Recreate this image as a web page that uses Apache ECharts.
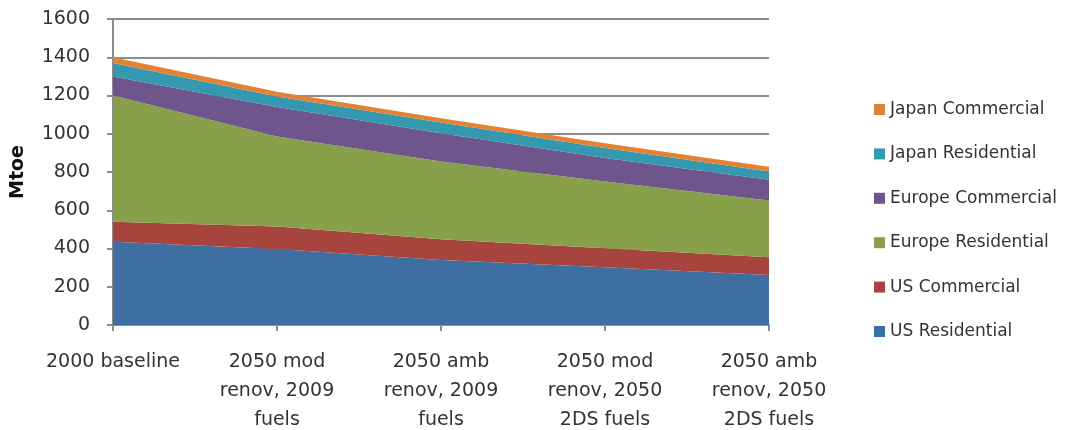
<!DOCTYPE html>
<html>
<head>
<meta charset="utf-8">
<script src="https://cdn.jsdelivr.net/npm/echarts@6/dist/echarts.min.js"></script>
<style>
  html, body { margin: 0; padding: 0; background: #fff; }
  #chart { width: 1092px; height: 430px; }
</style>
</head>
<body>
<div id="chart"></div>
<script>
// Scenario categories along the x axis
const categories = [
  '2000 baseline',
  '2050 mod\nrenov, 2009\nfuels',
  '2050 amb\nrenov, 2009\nfuels',
  '2050 mod\nrenov, 2050\n2DS fuels',
  '2050 amb\nrenov, 2050\n2DS fuels'
];

// Final energy demand by region and sector (Mtoe)
const usResidential     = [435, 398, 340, 302, 262];
const usCommercial      = [105, 117, 109,  99,  92];
const europeResidential = [660, 470, 406, 349, 297];
const europeCommercial  = [100, 155, 148, 123, 108];
const japanResidential  = [ 70,  55,  56,  52,  44];
const japanCommercial   = [ 30,  25,  22,  25,  25];

const yTicks = { min: 0, max: 1600, interval: 200 };

const seriesDefs = [
  { name: 'US Residential',     data: usResidential,     color: '#3E6EA2' },
  { name: 'US Commercial',      data: usCommercial,      color: '#A8443E' },
  { name: 'Europe Residential', data: europeResidential, color: '#88A04A' },
  { name: 'Europe Commercial',  data: europeCommercial,  color: '#6E568C' },
  { name: 'Japan Residential',  data: japanResidential,  color: '#3498B0' },
  { name: 'Japan Commercial',   data: japanCommercial,   color: '#E28232' }
];

const font = '"DejaVu Sans", "Open Sans", sans-serif';
const chart = echarts.init(document.getElementById('chart'), null, { renderer: 'canvas' });

chart.setOption({
  animation: false,
  textStyle: { fontFamily: font },
  grid: {
    left: 113, right: 323, top: 19, bottom: 105,
    containLabel: false,
    outerBoundsMode: 'none'
  },
  legend: {
    orient: 'vertical',
    left: 869,
    top: 96,
    itemGap: 27.4,
    itemWidth: 11,
    itemHeight: 11,
    icon: 'rect',
    textStyle: { fontFamily: font, fontSize: 17, color: '#333' },
    data: seriesDefs.map(s => s.name).reverse()
  },
  xAxis: {
    type: 'category',
    data: categories,
    boundaryGap: false,
    axisLine: { lineStyle: { color: '#8C8C8C', width: 2 } },
    axisTick: { alignWithLabel: true, length: 6, lineStyle: { color: '#8C8C8C', width: 2 } },
    axisLabel: { fontFamily: font, fontSize: 19, color: '#333', lineHeight: 29, margin: 23, interval: 0 },
    splitLine: { show: false }
  },
  yAxis: {
    type: 'value',
    min: yTicks.min,
    max: yTicks.max,
    interval: yTicks.interval,
    name: 'Mtoe',
    nameLocation: 'middle',
    nameGap: 85,
    nameTextStyle: { fontFamily: font, fontSize: 19, fontWeight: 'bold', color: '#111' },
    axisLine: { show: true, lineStyle: { color: '#8C8C8C', width: 2 } },
    axisTick: { show: true, length: 6, lineStyle: { color: '#8C8C8C', width: 2 } },
    axisLabel: { fontFamily: font, fontSize: 19, color: '#333', margin: 23, formatter: v => String(v) },
    splitLine: { lineStyle: { color: '#8C8C8C', width: 2 } }
  },
  series: seriesDefs.map(s => ({
    name: s.name,
    type: 'line',
    stack: 'total',
    data: s.data,
    symbol: 'none',
    lineStyle: { width: 0 },
    areaStyle: { color: s.color, opacity: 1 },
    itemStyle: { color: s.color },
    emphasis: { disabled: true }
  }))
});
</script>
</body>
</html>
